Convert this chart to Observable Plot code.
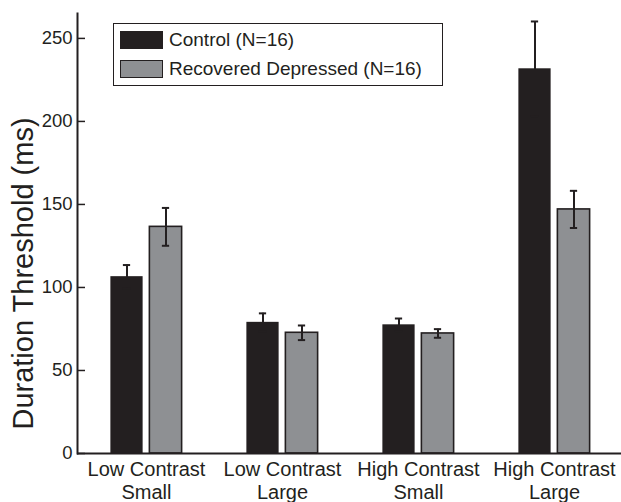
<!DOCTYPE html>
<html>
<head>
<meta charset="utf-8">
<script src="https://cdn.jsdelivr.net/npm/d3@7"></script>
<script src="https://cdn.jsdelivr.net/npm/@observablehq/plot@0.6"></script>
<style>
  body { margin: 0; background: #fff; font-family: "Liberation Sans", Arial, Helvetica, sans-serif; }
  #wrap { position: relative; width: 621px; height: 502px; }
  .legend { position: absolute; left: 113px; top: 23px; width: 330px; height: 63px; box-sizing: border-box;
            border: 1.6px solid #231f20; background: #fff; }
  .item { position: absolute; left: 6px; display: flex; align-items: center; height: 20px; }
  .sw { width: 43px; height: 18px; box-sizing: border-box; border: 1.6px solid #231f20; margin-right: 6px; }
  .lab { font-size: 19px; color: #231f20; white-space: nowrap; }
</style>
</head>
<body>
<div id="wrap">
  <div id="chart"></div>
  <div class="legend" id="legend"></div>
</div>
<script>
// ---- data ----
const categories = ["Low Contrast\nSmall", "Low Contrast\nLarge", "High Contrast\nSmall", "High Contrast\nLarge"];
const groups = ["Control (N=16)", "Recovered Depressed (N=16)"];
const controlMean = [106.5, 79, 77.5, 231.7];
const controlErr = [7, 5.4, 3.8, 28.5];
const recoveredMean = [136.5, 72.7, 72.3, 147];
const recoveredErr = [11.4, 4.4, 2.6, 11.2];
const yTicks = [0, 50, 100, 150, 200, 250];
const yLabel = "Duration Threshold (ms)";

const colors = ["#231f20", "#8e9093"];
const ink = "#231f20";

const rows = (means, errs, g) => categories.map((c, i) => ({cat: c, group: g, v: means[i], lo: means[i] - errs[i], hi: means[i] + errs[i]}));
const ctrl = rows(controlMean, controlErr, groups[0]);
const rec = rows(recoveredMean, recoveredErr, groups[1]);

const W = 621, H = 502, mL = 77, mR = 0, mT = 13, mB = 49;
const bandW = (623 - 76) / categories.length;
const barW = 33, off = 19.5, capW = 8;
const barInset = (bandW - barW) / 2;
const capInset = (bandW - capW) / 2;

function groupMarks(data, fill, dx) {
  return [
    Plot.barY(data, {x: "cat", y: "v", fill, stroke: ink, strokeWidth: fill === ink ? 0 : 1.6, insetLeft: barInset, insetRight: barInset, dx}),
    Plot.ruleX(data, {x: "cat", y1: "lo", y2: "hi", stroke: ink, strokeWidth: 2, dx}),
    Plot.tickY(data, {x: "cat", y: "hi", stroke: ink, strokeWidth: 2, insetLeft: capInset, insetRight: capInset, dx}),
    Plot.tickY(data, {x: "cat", y: "lo", stroke: ink, strokeWidth: 2, insetLeft: capInset, insetRight: capInset, dx})
  ];
}

const chart = Plot.plot({
  width: W, height: H,
  marginLeft: mL, marginRight: mR, marginTop: mT, marginBottom: mB,
  style: {fontFamily: '"Liberation Sans", Arial, Helvetica, sans-serif', color: ink, background: "#fff", overflow: "visible"},
  x: {domain: categories, range: [76, 623], padding: 0, label: null},
  y: {domain: [0, 265], label: null},
  marks: [
    ...groupMarks(ctrl, colors[0], -off),
    ...groupMarks(rec, colors[1], off),
    Plot.frame({anchor: "left", stroke: ink, strokeWidth: 2}),
    Plot.ruleY([0], {stroke: ink, strokeWidth: 2}),
    Plot.tickY(yTicks, {y: d => d, stroke: ink, strokeWidth: 1.5, insetRight: W - mL - mR - 8}),
    Plot.axisY({ticks: yTicks, tickSize: 0, tickPadding: 5, fontSize: 18.5, label: null}),
    Plot.axisX({tickSize: 0, tickPadding: 6, fontSize: 20, lineHeight: 1.15, label: null}),
    Plot.text([yLabel], {text: d => d, frameAnchor: "left", textAnchor: "middle", rotate: -90, dx: -54, dy: 40, fontSize: 29, fill: ink})
  ]
});
document.getElementById("chart").appendChild(chart);

// legend (HTML overlay)
const leg = document.getElementById("legend");
groups.forEach((g, i) => {
  const it = document.createElement("div");
  it.className = "item";
  it.style.top = (6 + i * 29) + "px";
  const sw = document.createElement("div");
  sw.className = "sw";
  sw.style.background = colors[i];
  const lab = document.createElement("span");
  lab.className = "lab";
  lab.textContent = g;
  it.appendChild(sw); it.appendChild(lab);
  leg.appendChild(it);
});
</script>
</body>
</html>
